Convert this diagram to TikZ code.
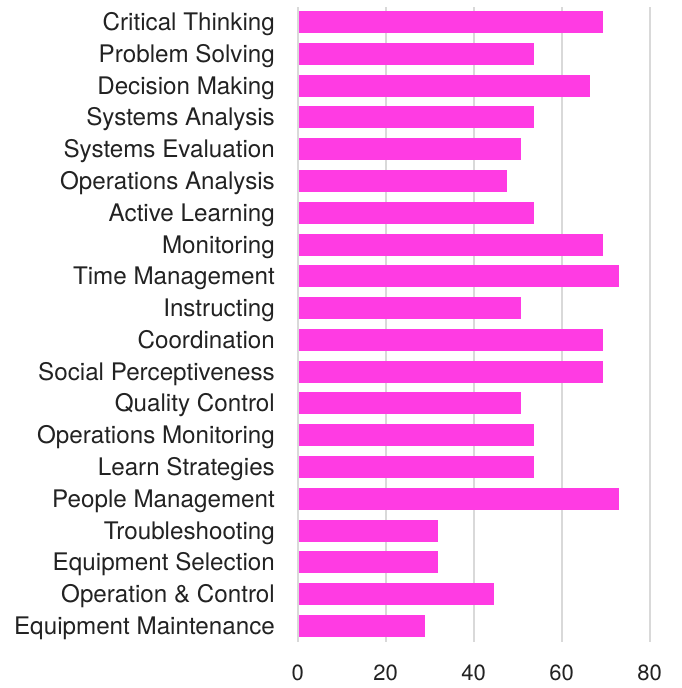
\documentclass[tikz,border=0pt]{standalone}
\usepackage{fontspec}
\setmainfont{TeX Gyre Heros}
\definecolor{barpink}{HTML}{FF3BE3}
\definecolor{gridgray}{HTML}{D9D9D9}
\definecolor{labelgray}{HTML}{222222}

\begin{document}
\begin{tikzpicture}[
        x=1pt, y=-1pt,
        bar/.style={fill=barpink},
        gridline/.style={draw=gridgray, line width=2pt},
        skill/.style={anchor=base east, inner sep=0pt, text=labelgray, font=\fontsize{24.2}{27}\selectfont},
        ticklabel/.style={anchor=base, inner sep=0pt, text=labelgray, font=\fontsize{22}{26}\selectfont}
    ]
        \useasboundingbox (0,0) rectangle (682,688);

        % Vertical grid lines with axis values
        \foreach \v in {0,20,40,60,80} {
            \coordinate (gridtop\v) at (297.7+4.4*\v, 7);
            \coordinate (gridbot\v) at (297.7+4.4*\v, 642);
            \draw[gridline] (gridtop\v) -- (gridbot\v);
            \node[ticklabel] (tick\v) at (297.7+4.4*\v, 680) {\v};
        }

        % Skill bars with their labels
        \foreach \name/\val [count=\i] in {
                Critical Thinking/69.3, Problem Solving/53.6, Decision Making/66.4,
                Systems Analysis/53.6, Systems Evaluation/50.7, Operations Analysis/47.5,
                Active Learning/53.6, Monitoring/69.3, Time Management/73,
                Instructing/50.7, Coordination/69.3, Social Perceptiveness/69.3,
                Quality Control/50.7, Operations Monitoring/53.6, Learn Strategies/53.6,
                People Management/73, Troubleshooting/31.8, Equipment Selection/31.8,
                Operation \& Control/44.5, Equipment Maintenance/28.9} {
            \pgfmathsetmacro{\yc}{22+31.79*(\i-1)}
            \fill[bar] (299,\yc-11) rectangle (297.7+4.4*\val,\yc+11);
            \node[skill] (skill\i) at (275,\yc+8.5) {\name};
        }

    \end{tikzpicture}
\end{document}
